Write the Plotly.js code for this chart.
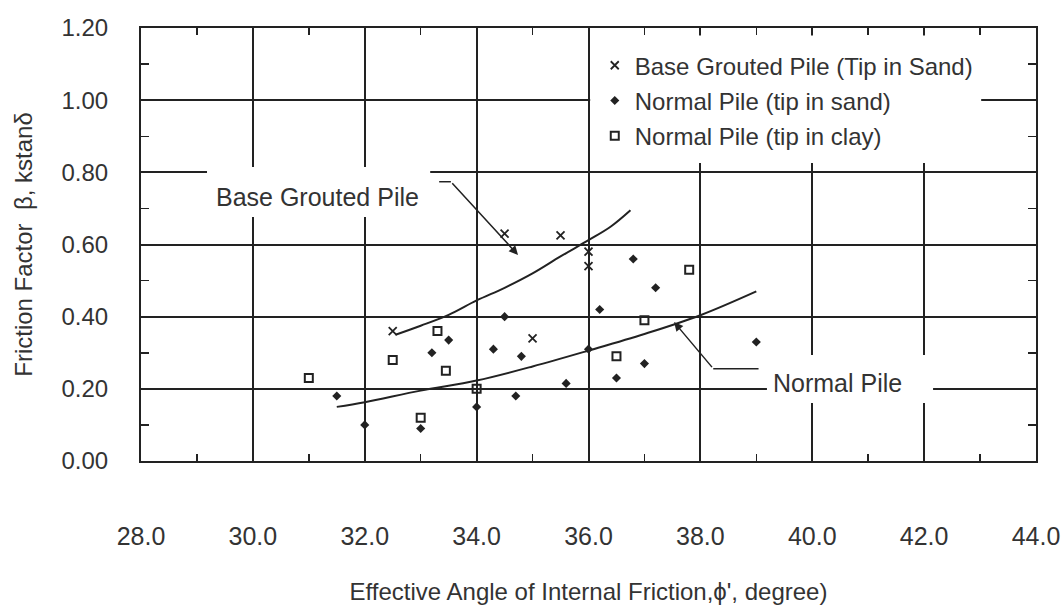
<!DOCTYPE html>
<html>
<head>
<meta charset="utf-8">
<script src="https://cdn.plot.ly/plotly-3.0.1.min.js"></script>
<style>html,body{margin:0;padding:0;background:#fff;}#chart{width:1062px;height:607px;}</style>
</head>
<body>
<div id="chart"></div>
<script>
// ---- data ----
const baseGroutedX = [32.5, 34.5, 35.0, 35.5, 36.0, 36.0];
const baseGroutedY = [0.36, 0.63, 0.34, 0.625, 0.58, 0.54];

const normalSandX = [31.5, 32.0, 33.0, 33.2, 33.5, 34.0, 34.3, 34.5, 34.7, 34.8, 35.6, 36.0, 36.2, 36.5, 36.8, 37.0, 37.2, 39.0];
const normalSandY = [0.18, 0.10, 0.09, 0.30, 0.335, 0.15, 0.31, 0.40, 0.18, 0.29, 0.215, 0.31, 0.42, 0.23, 0.56, 0.27, 0.48, 0.33];

const normalClayX = [31.0, 32.5, 33.0, 33.3, 33.45, 34.0, 36.5, 37.0, 37.8];
const normalClayY = [0.23, 0.28, 0.12, 0.36, 0.25, 0.20, 0.29, 0.39, 0.53];

const bgCurveX = [32.55, 33.0, 33.5, 34.0, 34.5, 35.0, 35.5, 36.0, 36.4, 36.75];
const bgCurveY = [0.35, 0.375, 0.405, 0.445, 0.48, 0.52, 0.567, 0.612, 0.65, 0.695];

const npCurveX = [31.5, 32.0, 33.0, 34.0, 35.0, 36.0, 37.0, 38.0, 39.0];
const npCurveY = [0.15, 0.163, 0.195, 0.223, 0.262, 0.306, 0.352, 0.404, 0.47];

const legendNames = ['Base Grouted Pile (Tip in Sand)', 'Normal Pile (tip in sand)', 'Normal Pile (tip in clay)'];
const xTitle = "Effective Angle of Internal Friction,\u03d5', degree)";
const yTitle = 'Friction Factor\u00a0 \u03b2, kstan\u03b4';

const ink = '#222';
const txt = '#333';
const font = '"Liberation Sans", Arial, sans-serif';

const traces = [
  {x: bgCurveX, y: bgCurveY, mode: 'lines', line: {color: ink, width: 2, shape: 'spline'}, showlegend: false, hoverinfo: 'skip'},
  {x: npCurveX, y: npCurveY, mode: 'lines', line: {color: ink, width: 2, shape: 'spline'}, showlegend: false, hoverinfo: 'skip'},
  {x: baseGroutedX, y: baseGroutedY, mode: 'markers', name: legendNames[0], legendgroup: 'a',
   marker: {symbol: 'x-thin', size: 8, color: ink, line: {width: 1.8, color: ink}}},
  {x: normalSandX, y: normalSandY, mode: 'markers', name: legendNames[1], legendgroup: 'b',
   marker: {symbol: 'diamond', size: 7, color: ink}},
  {x: normalClayX, y: normalClayY, mode: 'markers', name: legendNames[2], legendgroup: 'c',
   marker: {symbol: 'square-open', size: 8, color: ink, line: {width: 2}}}
];

const white = {type: 'rect', layer: 'above', xref: 'x', yref: 'y', fillcolor: '#fff', line: {width: 0}};
const shapes = [
  Object.assign({}, white, {x0: 36.03, x1: 43.02, y0: 0.826, y1: 1.179}),
  Object.assign({}, white, {x0: 29.18, x1: 33.17, y0: 0.676, y1: 0.815}),
  Object.assign({}, white, {x0: 39.19, x1: 42.16, y0: 0.161, y1: 0.294}),
  {type: 'line', layer: 'above', xref: 'x', yref: 'y', x0: 33.33, x1: 33.54, y0: 0.774, y1: 0.774, line: {color: ink, width: 1.5}},
  {type: 'line', layer: 'above', xref: 'x', yref: 'y', x0: 38.23, x1: 39.04, y0: 0.256, y1: 0.256, line: {color: ink, width: 1.5}}
];

const annotations = [
  {x: 31.15, y: 0.732, xref: 'x', yref: 'y', text: 'Base Grouted Pile', showarrow: false, font: {family: font, size: 25, color: txt}},
  {x: 40.46, y: 0.215, xref: 'x', yref: 'y', text: 'Normal Pile', showarrow: false, font: {family: font, size: 25, color: txt}},
  {x: 34.74, y: 0.571, ax: 33.54, ay: 0.774, xref: 'x', yref: 'y', axref: 'x', ayref: 'y', text: '', showarrow: true,
   arrowhead: 2, arrowsize: 1.2, arrowwidth: 1.5, arrowcolor: ink},
  {x: 37.53, y: 0.385, ax: 38.23, ay: 0.256, xref: 'x', yref: 'y', axref: 'x', ayref: 'y', text: '', showarrow: true,
   arrowhead: 2, arrowsize: 1.2, arrowwidth: 1.5, arrowcolor: ink}
];

const layout = {
  width: 1062, height: 607,
  margin: {l: 141, r: 26, t: 28, b: 146, pad: 0},
  paper_bgcolor: '#fff', plot_bgcolor: '#fff',
  font: {family: font, color: txt, size: 24},
  showlegend: true,
  legend: {x: 0.507, y: 0.965, xanchor: 'left', yanchor: 'top', bgcolor: 'rgba(0,0,0,0)', borderwidth: 0,
           font: {family: font, size: 24, color: txt}, traceorder: 'grouped', tracegroupgap: 1},
  xaxis: {
    range: [28, 44], tick0: 28, dtick: 2, tickformat: '.1f',
    showgrid: true, gridcolor: ink, gridwidth: 2, zeroline: false,
    showline: true, linecolor: ink, linewidth: 2, mirror: 'ticks',
    ticks: 'inside', ticklen: 8, tickwidth: 1.5, tickcolor: ink,
    ticklabelstandoff: 52, tickfont: {family: font, size: 25, color: txt},
    minor: {dtick: 1, ticks: 'inside', ticklen: 7, tickwidth: 1.5, tickcolor: ink, showgrid: false},
    title: {text: xTitle, font: {family: font, size: 24, color: txt}, standoff: 34},
    fixedrange: true
  },
  yaxis: {
    range: [0, 1.2], tick0: 0, dtick: 0.2, tickformat: '.2f',
    showgrid: true, gridcolor: ink, gridwidth: 2, zeroline: false,
    showline: true, linecolor: ink, linewidth: 2, mirror: 'ticks',
    ticks: 'inside', ticklen: 8, tickwidth: 1.5, tickcolor: ink,
    ticklabelstandoff: 26, tickfont: {family: font, size: 24, color: txt},
    minor: {dtick: 0.1, ticks: 'inside', ticklen: 8, tickwidth: 1.5, tickcolor: ink, showgrid: false},
    title: {text: yTitle, font: {family: font, size: 24, color: txt}, standoff: 22},
    fixedrange: true
  },
  shapes: shapes,
  annotations: annotations
};

Plotly.newPlot('chart', traces, layout, {displayModeBar: false, staticPlot: true});
</script>
</body>
</html>
